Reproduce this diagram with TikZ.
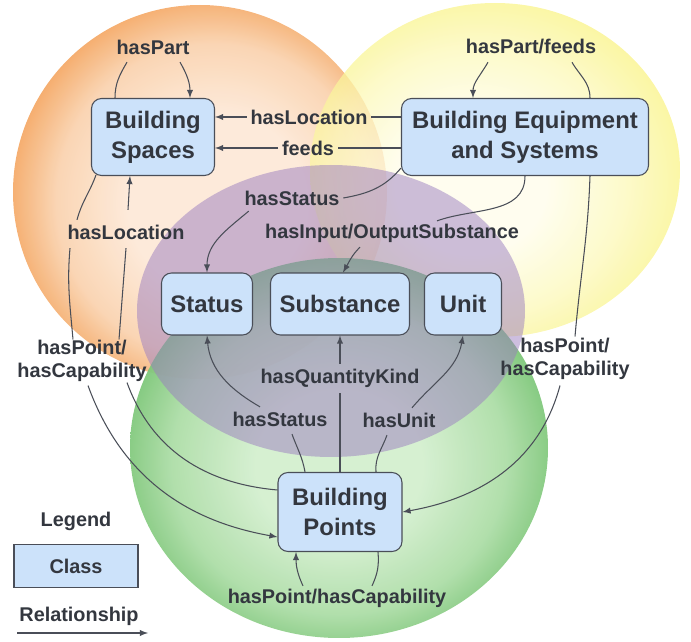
\documentclass[tikz,border=0pt]{standalone}
\usepackage{fontspec}
\setmainfont{Liberation Sans}
\usepackage{tikz}
\definecolor{orangeOut}{HTML}{F4A865}
\definecolor{orangeMid}{HTML}{FAD3B0}
\definecolor{orangeIn}{HTML}{FDE9D8}
\definecolor{yellowOut}{HTML}{F8F27A}
\definecolor{yellowMid}{HTML}{FCF8B8}
\definecolor{yellowIn}{HTML}{FFFDEA}
\definecolor{greenOut}{HTML}{6CBE68}
\definecolor{greenMid}{HTML}{ADDDA7}
\definecolor{greenIn}{HTML}{D4EFCF}
\definecolor{purpleSet}{HTML}{9B7DC0}
\definecolor{boxBlue}{HTML}{CCE2FA}
\definecolor{edgeGray}{HTML}{4A4E58}
\definecolor{textGray}{HTML}{33373F}
\usetikzlibrary{calc}

\pgfdeclareradialshading{orangeBall}{\pgfpoint{3bp}{-2bp}}{color(0bp)=(orangeIn); color(12bp)=(orangeIn); color(21bp)=(orangeMid); color(27bp)=(orangeOut); color(50bp)=(orangeOut)}
\pgfdeclareradialshading{yellowBall}{\pgfpoint{-4bp}{-3bp}}{color(0bp)=(yellowIn); color(10bp)=(yellowIn); color(20bp)=(yellowMid); color(29bp)=(yellowOut); color(50bp)=(yellowOut)}
\pgfdeclareradialshading{greenBall}{\pgfpoint{0bp}{-3bp}}{color(0bp)=(greenIn); color(10bp)=(greenIn); color(20bp)=(greenMid); color(28bp)=(greenOut); color(50bp)=(greenOut)}

\newcommand{\clsfont}{\fontsize{13.6}{17}\selectfont\bfseries}
\newcommand{\relfont}{\fontsize{11.3}{13}\selectfont\bfseries}

\tikzset{
  cls/.style={draw=edgeGray, fill=boxBlue, line width=0.6pt, rounded corners=0.2cm,
    align=center, text=textGray, font=\clsfont, inner sep=0pt},
  rel/.style={text=textGray, font=\relfont, align=center, inner sep=2pt},
  link/.style={draw=edgeGray, line width=0.6pt},
}

\begin{document}
\begin{tikzpicture}[x=0.02cm, y=0.02cm]
        \useasboundingbox (0,0) rectangle (691,-642);

        \shade[shading=orangeBall, opacity=0.95] (200,-192) circle (187);
        \shade[shading=yellowBall, opacity=0.75] (495,-170) ellipse (185 and 167);
        \shade[shading=greenBall, opacity=0.95] (339,-448) ellipse (209 and 190);
        \fill[purpleSet, opacity=0.5] (331,-311) ellipse (194 and 146);

        \node[cls, minimum width=2.46cm, minimum height=1.54cm] (bs)  at (153,-137) {Building\\Spaces};
        \node[cls, minimum width=4.94cm, minimum height=1.54cm] (bes) at (525,-137) {Building Equipment\\and Systems};
        \node[cls, minimum width=1.82cm, minimum height=1.24cm] (st)  at (207,-304) {Status};
        \node[cls, minimum width=2.78cm, minimum height=1.24cm] (sub) at (340,-304) {Substance};
        \node[cls, minimum width=1.54cm, minimum height=1.24cm] (un)  at (463,-304) {Unit};
        \node[cls, minimum width=2.48cm, minimum height=1.58cm] (bp)  at (340,-512) {Building\\Points};

        \node[rel] (lhp)   at (153,-47)  {hasPart};
        \node[rel] (lhpf)  at (531,-47)  {hasPart/feeds};
        \node[rel] (lloc)  at (309,-117) {hasLocation};
        \node[rel] (lfd)   at (308,-148) {feeds};
        \node[rel] (lst1)  at (292,-198) {hasStatus};
        \node[rel] (lio)   at (392,-233) {hasInput/OutputSubstance};
        \node[rel] (lloc2) at (126,-232) {hasLocation};
        \node[rel] (lpc1)  at (82,-361)  {hasPoint/\\hasCapability};
        \node[rel] (lpc2)  at (565,-359) {hasPoint/\\hasCapability};
        \node[rel] (lst2)  at (280,-419) {hasStatus};
        \node[rel] (lqk)   at (340,-378) {hasQuantityKind};
        \node[rel] (lun)   at (399,-420) {hasUnit};
        \node[rel] (lpc3)  at (337,-598) {hasPoint/hasCapability};

        \draw[link] ($(bs.north)+(-38,0)$) to[out=90,in=-120] ($(lhp.south)+(-26,-4)$);
        \draw[link,-latex] ($(lhp.south)+(27,-4)$) to[out=-60,in=90] ($(bs.north)+(37,0)$);
        \draw[link] ($(bes.north)+(65,0)$) to[out=90,in=-60] ($(lhpf.south)+(41,-4)$);
        \draw[link,-latex] ($(lhpf.south)+(-43,-4)$) to[out=-120,in=90] ($(bes.north)+(-52,0)$);

        \draw[link] ($(bes.west)+(0,20)$) -- (lloc.east);
        \draw[link,-latex] (lloc.west) -- ($(bs.east)+(0,20)$);
        \draw[link] ($(bes.west)+(0,-11)$) -- (lfd.east);
        \draw[link,-latex] (lfd.west) -- ($(bs.east)+(0,-11)$);

        \draw[link] ($(bes.south west)+(0,8)$) to[out=-130,in=10] (lst1.east);
        \draw[link,-latex] ($(lst1.south west)+(8,-2)$) to[out=-140,in=90] (st.north);
        \draw[link] (bes.south) to[out=-90,in=20] ($(lio.north)+(45,-1)$);
        \draw[link,-latex] ($(lio.south)+(-32,-1)$) to[out=-135,in=60] ($(sub.north)+(3,0)$);

        \draw[link] ($(bp.west)+(0,22)$) to[out=175,in=-70] ($(lpc1.south)+(45,3)$);
        \draw[link] ($(lpc1.north)+(37,-3)$) -- ($(lloc2.south)+(0,-5)$);
        \draw[link,-latex] ($(lloc2.north)+(2,11)$) -- ($(bs.south)+(-23,0)$);

        \draw[link] ($(bs.south west)+(5,1)$) to[out=-110,in=75] ($(lloc2.north)+(-49,1)$);
        \draw[link] ($(lloc2.south)+(-56,-5)$) to[out=-95,in=95] ($(lpc1.north)+(-9,-3)$);
        \draw[link,-latex] ($(lpc1.south)+(6,0)$) to[out=-70,in=170] ($(bp.west)+(0,-25)$);

        \draw[link] ($(bes.south)+(65,0)$) to[out=-92,in=85] ($(lpc2.north)+(10,-2)$);
        \draw[link,-latex] ($(lpc2.south)+(-5,-2)$) to[out=-105,in=10] (bp.east);

        \draw[link] ($(bp.north)+(-35,0)$) to[out=100,in=-70] ($(lst2.south)+(12,-4)$);
        \draw[link,-latex] ($(lst2.north)+(-20,1)$) to[out=150,in=-85] (st.south);
        \draw[link] (bp.north) -- ($(lqk.south)+(0,-2)$);
        \draw[link,-latex] ($(lqk.north)+(0,1)$) -- (sub.south);
        \draw[link] ($(bp.north)+(36,0)$) to[out=95,in=-110] ($(lun.south)+(-12,-4)$);
        \draw[link,-latex] ($(lun.north)+(13,1)$) to[out=50,in=-100] (un.south);
        \draw[link] ($(bp.south)+(38,0)$) to[out=-85,in=65] ($(lpc3.north)+(35,-1)$);
        \draw[link,-latex] ($(lpc3.north)+(-34,-1)$) to[out=115,in=-90] ($(bp.south)+(-44,0)$);

        \node[rel] (lgd) at (76,-521) {Legend};
        \node[cls, rounded corners=0pt, font=\relfont, minimum width=2.48cm, minimum height=0.86cm] (cl) at (76,-566) {Class};
        \node[rel] (rs) at (79,-616) {Relationship};
        \coordinate (ra) at (17,-633);
        \coordinate (rb) at (148,-633);
        \draw[link,-latex] (ra) -- (rb);
    \end{tikzpicture}
\end{document}
